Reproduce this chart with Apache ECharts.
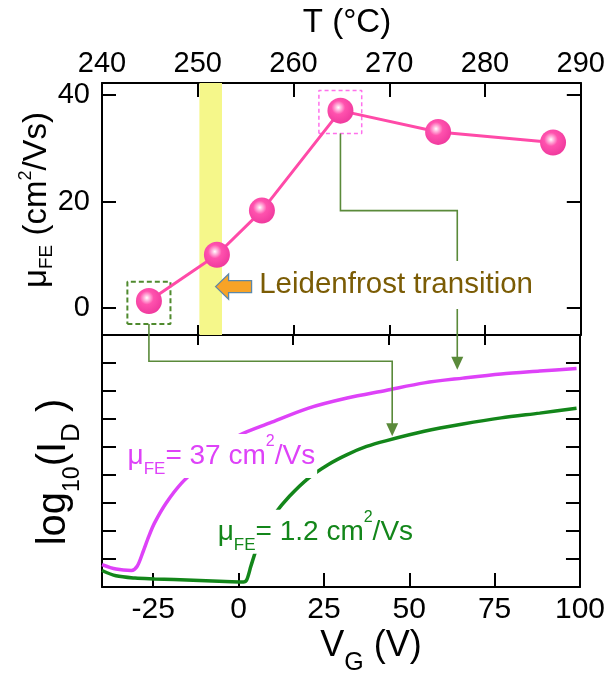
<!DOCTYPE html>
<html><head><meta charset="utf-8">
<script src="https://cdn.jsdelivr.net/npm/echarts@6/dist/echarts.min.js"></script>
<style>html,body{margin:0;padding:0;background:#fff}#c{width:608px;height:673px}</style>
</head><body><div id="c"></div>
<script>
// ---- Top panel: field-effect mobility vs. deposition temperature ----
const tempC    = [244.9, 252.0, 256.7, 264.9, 275.1, 287.1];
const mobility = [1.3, 10.0, 18.3, 37.1, 33.1, 31.1];
const muTicks  = [0, 20, 40];
const leidenfrostBand = [250.17, 252.53];

// ---- Bottom panel: transfer curves log10(I_D) vs V_G ----
const vgHigh    = [-40, -35.9, -31.4, -29.7, -28.0, -26.3, -24.6, -21.2, -16.7, -11.1, -5.4, 0.2, 9.2, 20.5, 31.8, 43.1, 54.4, 65.7, 76.9, 88.2, 99.0];
const logIdHigh = [0.80, 0.64, 0.59, 0.74, 1.25, 1.81, 2.29, 3.00, 3.71, 4.35, 4.95, 5.42, 5.86, 6.39, 6.75, 7.02, 7.29, 7.46, 7.61, 7.71, 7.80];
const vgLow     = [-40, -35.9, -30.3, -24.6, -13.3, -2.0, 1.4, 2.4, 3.6, 5.3, 7.0, 10.4, 14.9, 20.5, 26.2, 31.8, 37.5, 43.1, 54.4, 65.7, 76.9, 88.2, 99.0];
const logIdLow  = [0.59, 0.40, 0.32, 0.29, 0.24, 0.19, 0.18, 0.26, 0.74, 1.39, 1.93, 2.58, 3.24, 3.89, 4.37, 4.73, 5.02, 5.22, 5.56, 5.82, 6.04, 6.21, 6.38];
const vgTicks   = [-25, 0, 25, 50, 75, 100];

// ---- annotation anchors (data units) ----
const greenBox = [[242.65, -3.05], [247.15, 4.9]];   // [T, mu] corners
const pinkBox  = [[262.65, 32.8], [267.12, 40.9]];
const pinkLink  = {startT: 264.9, startMu: 32.8, elbowMu: 18.3, dropT: 277.1, tipLogId: 7.76};
const greenLink = {startT: 244.9, startMu: -3.05, elbowLogId: 8.06, dropVg: 45.0, tipLogId: 5.38};
const arrowTip  = [251.86, 4.0];
const leidenPos = [256.1, 4.3];
const labelHigh = [-33.1, 4.68];
const labelLow  = [-6.7, 1.97];

const FONT = "'Liberation Sans', Arial, Helvetica, sans-serif";
const BLACK = '#000';
const LINK = '#5a8a3a';

function boxPath(b) {
  const [[x0, y0], [x1, y1]] = b;
  return [[x0, y0], [x1, y0], [x1, y1], [x0, y1], [x0, y0]];
}
const zip = (a, b) => a.map((v, i) => [v, b[i]]);

const chart = echarts.init(document.getElementById('c'), null, {renderer: 'canvas'});
const axisLine = {show: true, onZero: false, lineStyle: {color: BLACK, width: 2}};
const tickStyle = {color: BLACK, width: 2};
const noSplit = {show: false};

const option = {
  animation: false,
  backgroundColor: '#fff',
  grid: [
    {left: 102, right: 25, top: 83, height: 252},
    {left: 102, right: 25, top: 335, height: 252}
  ],
  xAxis: [
    {gridIndex: 0, type: 'value', position: 'top', min: 240, max: 290, interval: 10, axisLine,
     axisTick: {inside: true, length: 14, lineStyle: tickStyle},
     axisLabel: {fontSize: 29, fontFamily: FONT, color: BLACK, margin: 5}, splitLine: noSplit},
    {gridIndex: 0, type: 'value', position: 'bottom', min: 240, max: 290, interval: 10, axisLine,
     axisTick: {inside: true, length: 10, lineStyle: tickStyle}, axisLabel: {show: false}, splitLine: noSplit},
    {gridIndex: 1, type: 'value', position: 'top', min: 240, max: 290, interval: 10, axisLine,
     axisTick: {inside: true, length: 10, lineStyle: tickStyle}, axisLabel: {show: false}, splitLine: noSplit},
    {gridIndex: 1, type: 'value', position: 'bottom', min: -40, max: 100, axisLine,
     axisTick: {inside: true, length: 14, lineStyle: tickStyle, customValues: vgTicks},
     axisLabel: {customValues: vgTicks, fontSize: 30, fontFamily: FONT, color: BLACK, margin: 8}, splitLine: noSplit}
  ],
  yAxis: [
    {gridIndex: 0, type: 'value', position: 'left', min: -5.1, max: 42.3, axisLine,
     axisTick: {inside: true, length: 14, lineStyle: tickStyle, customValues: muTicks},
     axisLabel: {customValues: muTicks, fontSize: 29, fontFamily: FONT, color: BLACK, margin: 12}, splitLine: noSplit},
    {gridIndex: 0, type: 'value', position: 'right', min: -5.1, max: 42.3, axisLine,
     axisTick: {inside: true, length: 14, lineStyle: tickStyle, customValues: muTicks},
     axisLabel: {show: false}, splitLine: noSplit},
    {gridIndex: 1, type: 'value', position: 'left', min: 0, max: 9, interval: 1, axisLine,
     axisTick: {inside: true, length: 14, lineStyle: tickStyle}, axisLabel: {show: false}, splitLine: noSplit},
    {gridIndex: 1, type: 'value', position: 'right', min: 0, max: 9, interval: 1, axisLine,
     axisTick: {inside: true, length: 14, lineStyle: tickStyle}, axisLabel: {show: false}, splitLine: noSplit}
  ],
  series: [
    {type: 'line', xAxisIndex: 0, yAxisIndex: 0, data: boxPath(greenBox), symbol: 'none', silent: true, z: 3,
     lineStyle: {color: '#4f8a2e', width: 2, type: [5, 3]},
     markArea: {silent: true, itemStyle: {color: '#f5f78a'}, data: [[{xAxis: leidenfrostBand[0]}, {xAxis: leidenfrostBand[1]}]]}},
    {type: 'line', xAxisIndex: 0, yAxisIndex: 0, data: boxPath(pinkBox), symbol: 'none', silent: true, z: 3,
     lineStyle: {color: '#ff70ec', width: 1.5, type: [4, 3]}},
    {type: 'line', xAxisIndex: 0, yAxisIndex: 0, data: zip(tempC, mobility), z: 10,
     lineStyle: {color: '#ff4aa8', width: 3},
     symbol: 'circle', symbolSize: 26,
     itemStyle: {color: {type: 'radial', x: 0.42, y: 0.38, r: 0.62, colorStops: [
       {offset: 0, color: '#ffffff'}, {offset: 0.14, color: '#ffc2e2'},
       {offset: 0.42, color: '#ff52ae'}, {offset: 1, color: '#f03a9e'}]}}},
    {type: 'line', xAxisIndex: 3, yAxisIndex: 2, data: zip(vgHigh, logIdHigh), showSymbol: false, symbol: 'none',
     smooth: 0.3, lineStyle: {color: '#de42f8', width: 3.5}, z: 5},
    {type: 'line', xAxisIndex: 3, yAxisIndex: 2, data: zip(vgLow, logIdLow), showSymbol: false, symbol: 'none',
     smooth: 0.3, lineStyle: {color: '#13861a', width: 3.5}, z: 5}
  ]
};
chart.setOption(option);

const toTop = (t, m) => chart.convertToPixel({xAxisIndex: 0, yAxisIndex: 0}, [t, m]);
const toBot = (v, u) => chart.convertToPixel({xAxisIndex: 3, yAxisIndex: 2}, [v, u]);

function linkWithArrow(points, color) {
  const tip = points[points.length - 1];
  const shaft = points.slice(0, -1).concat([[tip[0], tip[1] - 12]]);
  return [
    {type: 'polyline', z: 50, shape: {points: shaft}, style: {stroke: color, lineWidth: 1.6, fill: null}},
    {type: 'polygon', z: 50, shape: {points: [[tip[0] - 6, tip[1] - 13], [tip[0] + 6, tip[1] - 13], [tip[0], tip[1]]]},
     style: {fill: color, stroke: null}}
  ];
}

// pink link
const pA = toTop(pinkLink.startT, pinkLink.startMu);
const pB = toTop(pinkLink.startT, pinkLink.elbowMu);
const pC = toTop(pinkLink.dropT, pinkLink.elbowMu);
const pD = [pC[0], toBot(0, pinkLink.tipLogId)[1]];
// green link
const gA = toTop(greenLink.startT, greenLink.startMu);
const gB = [gA[0], toBot(0, greenLink.elbowLogId)[1]];
const gC = [toBot(greenLink.dropVg, 0)[0], gB[1]];
const gD = [gC[0], toBot(0, greenLink.tipLogId)[1]];

const at = toTop(arrowTip[0], arrowTip[1]);
const arrowShape = [[0, 0], [13, -12.5], [13, -6], [36, -6], [36, 6], [13, 6], [13, 12.5]].map(p => [at[0] + p[0], at[1] + p[1]]);

const lp = toTop(leidenPos[0], leidenPos[1]);
const hp = toBot(labelHigh[0], labelHigh[1]);
const lw = toBot(labelLow[0], labelLow[1]);

function tok(size, extra) { return Object.assign({fontSize: size, fontFamily: FONT}, extra || {}); }

function muLabel(value, color, pos) {
  return {type: 'text', z: 60, x: pos[0], y: pos[1], style: {
    text: '{a|μ}{s|FE}{a|= ' + value + ' cm}{p|2}{a|/Vs}',
    fill: color, align: 'left', verticalAlign: 'middle', textAlign: 'left', textVerticalAlign: 'middle',
    backgroundColor: '#fff', padding: [0, 2],
    rich: {
      a: tok(28, {fill: color, lineHeight: 44}),
      s: tok(17, {fill: color, lineHeight: 16, verticalAlign: 'bottom'}),
      p: tok(16, {fill: color, lineHeight: 30, verticalAlign: 'top'})
    }}};
}

const graphics = [
  ...linkWithArrow([pA, pB, pC, pD], LINK),
  ...linkWithArrow([gA, gB, gC, gD], LINK),
  {type: 'polygon', z: 55, shape: {points: arrowShape}, style: {fill: '#f8a326', stroke: '#5b87a9', lineWidth: 1.3}},
  {type: 'text', z: 60, x: lp[0], y: lp[1], style: {
    text: 'Leidenfrost transition', fontSize: 29.5, fontFamily: FONT, fill: '#7b5c05',
    align: 'left', verticalAlign: 'middle', textAlign: 'left', textVerticalAlign: 'middle',
    backgroundColor: '#fff', padding: [9, 3]}},
  muLabel('37', '#de42f8', hp),
  muLabel('1.2', '#13861a', lw),
  // axis titles
  {type: 'text', z: 60, x: 347, y: 23, style: {
    text: 'T (°C)', fontSize: 33, fontFamily: FONT, fill: BLACK,
    align: 'center', verticalAlign: 'middle', textAlign: 'center', textVerticalAlign: 'middle'}},
  {type: 'text', z: 60, x: 37, y: 200, rotation: Math.PI / 2, style: {
    text: '{a|μ}{s|FE}{a| (cm}{p|2}{a|/Vs)}', fill: BLACK,
    align: 'center', verticalAlign: 'middle', textAlign: 'center', textVerticalAlign: 'middle',
    rich: {
      a: tok(33, {fill: BLACK, lineHeight: 39}),
      s: tok(19, {fill: BLACK, lineHeight: 19, verticalAlign: 'bottom'}),
      p: tok(18, {fill: BLACK, lineHeight: 19, verticalAlign: 'top'})
    }}},
  {type: 'text', z: 60, x: 54, y: 472, rotation: Math.PI / 2, style: {
    text: '{a|log}{s|10}{a|(I}{d|D}{a| )}', fill: BLACK,
    align: 'center', verticalAlign: 'middle', textAlign: 'center', textVerticalAlign: 'middle',
    rich: {
      a: tok(40, {fill: BLACK, lineHeight: 61}),
      s: tok(23, {fill: BLACK, lineHeight: 22, verticalAlign: 'bottom'}),
      d: tok(26, {fill: BLACK, lineHeight: 14, verticalAlign: 'bottom'})
    }}},
  {type: 'text', z: 60, x: 371, y: 646, style: {
    text: '{a|V}{s|G}{a| (V)}', fill: BLACK,
    align: 'center', verticalAlign: 'middle', textAlign: 'center', textVerticalAlign: 'middle',
    rich: {
      a: tok(36, {fill: BLACK, lineHeight: 60}),
      s: tok(25, {fill: BLACK, lineHeight: 25, verticalAlign: 'bottom'})
    }}}
];
chart.setOption({graphic: graphics});
</script>
</body></html>
